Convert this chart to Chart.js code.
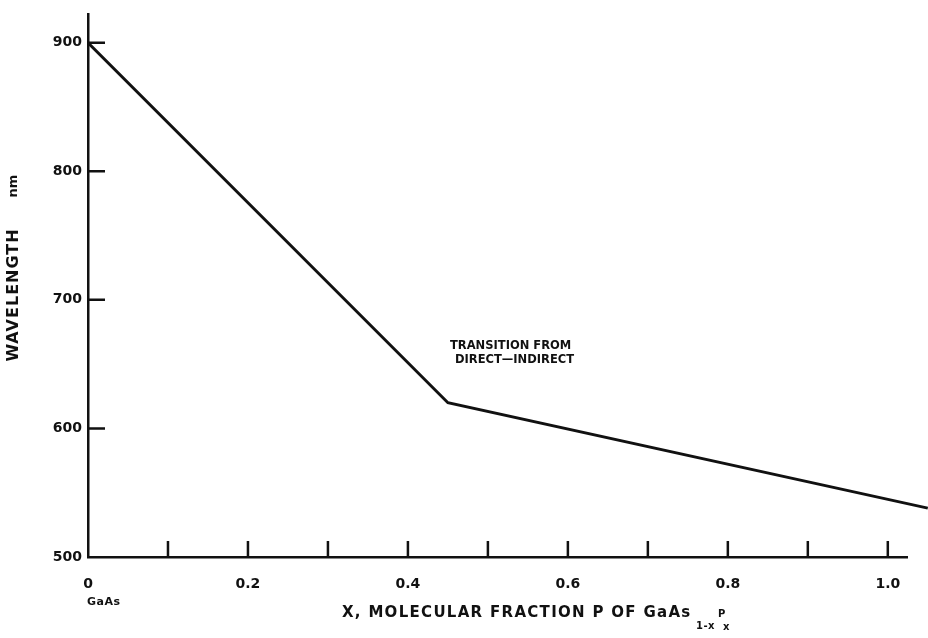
<!DOCTYPE html>
<html>
<head>
<meta charset="utf-8">
<script src="https://cdn.jsdelivr.net/npm/chart.js@4/dist/chart.umd.min.js"></script>
<style>
  html, body { margin: 0; padding: 0; background: #fff; }
  #wrap { width: 928px; height: 638px; position: relative; }
</style>
</head>
<body>
<div id="wrap"><canvas id="chart"></canvas></div>
<script>
// GaAs(1-x)P(x) emission wavelength vs. phosphorus fraction
const fractionX   = [0, 0.45, 1.05];
const wavelengths = [900, 620, 538];

const xTickValues = [0, 0.1, 0.2, 0.3, 0.4, 0.5, 0.6, 0.7, 0.8, 0.9, 1.0];
const xLabelled   = [0, 0.2, 0.4, 0.6, 0.8, 1.0];
const yTickValues = [500, 600, 700, 800, 900];

const INK = '#111';
const FONT = '"DejaVu Sans", sans-serif';

// short tick marks pointing into the plot, plus the loose labels
const decorations = {
  id: 'decorations',
  afterDraw(chart) {
    const { ctx, scales: { x, y } } = chart;
    const base = y.getPixelForValue(500);
    const left = x.getPixelForValue(0);
    ctx.save();
    ctx.strokeStyle = INK;
    ctx.lineWidth = 2.5;
    ctx.beginPath();
    xTickValues.filter(v => v > 0).forEach(v => {
      const px = x.getPixelForValue(v);
      ctx.moveTo(px, base);
      ctx.lineTo(px, base - 16);
    });
    yTickValues.filter(v => v > 500).forEach(v => {
      const py = y.getPixelForValue(v);
      ctx.moveTo(left, py);
      ctx.lineTo(left + 17, py);
    });
    ctx.stroke();

    ctx.fillStyle = INK;
    ctx.textBaseline = 'middle';

    // y title, rotated
    ctx.save();
    ctx.translate(14, 0);
    ctx.rotate(-Math.PI / 2);
    ctx.textAlign = 'center';
    ctx.font = 'bold 16px ' + FONT;
    ctx.letterSpacing = '1px';
    ctx.fillText('WAVELENGTH', -295, 0);
    ctx.font = 'bold 13px ' + FONT;
    ctx.letterSpacing = '0px';
    ctx.fillText('nm', -186, 0);
    ctx.restore();

    // compound under the origin
    ctx.textAlign = 'left';
    ctx.font = 'bold 11px ' + FONT;
    ctx.letterSpacing = '0.5px';
    ctx.fillText('GaAs', 87, 602);

    // x title with sub/superscript parts
    ctx.font = 'bold 15px ' + FONT;
    ctx.letterSpacing = '1.3px';
    ctx.fillText('X, MOLECULAR FRACTION P OF GaAs', 342, 613);
    ctx.font = 'bold 10px ' + FONT;
    ctx.letterSpacing = '0.5px';
    ctx.fillText('1-x', 696, 626);
    ctx.fillText('P', 718, 614);
    ctx.fillText('x', 723, 627);

    // transition note at the kink
    ctx.font = 'bold 11.5px ' + FONT;
    ctx.letterSpacing = '0px';
    ctx.fillText('TRANSITION FROM', 450, 346);
    ctx.fillText('DIRECT\u2014INDIRECT', 455, 360);
    ctx.restore();
  }
};

new Chart(document.getElementById('chart'), {
  type: 'line',
  data: {
    datasets: [{
      data: fractionX.map((v, i) => ({ x: v, y: wavelengths[i] })),
      borderColor: INK,
      borderWidth: 3,
      pointRadius: 0,
      tension: 0,
      clip: false
    }]
  },
  options: {
    responsive: true,
    maintainAspectRatio: false,
    animation: false,
    layout: { padding: { top: 9, right: 21, left: 0, bottom: 0 } },
    plugins: { legend: { display: false }, tooltip: { enabled: false } },
    scales: {
      x: {
        type: 'linear',
        min: 0,
        max: 1.024,
        afterBuildTicks: s => { s.ticks = xTickValues.map(v => ({ value: v })); },
        afterFit: s => { s.height = 81; },
        grid: { display: false, drawTicks: false },
        border: { display: true, color: INK, width: 2.5 },
        ticks: {
          autoSkip: false,
          maxRotation: 0,
          padding: 19,
          color: INK,
          font: { family: FONT, size: 14, weight: 'bold' },
          callback: v => {
            const hit = xLabelled.find(l => Math.abs(l - v) < 1e-6);
            if (hit === undefined) return '';
            return hit === 0 ? '0' : hit.toFixed(1);
          }
        }
      },
      y: {
        min: 500,
        max: 922,
        afterBuildTicks: s => { s.ticks = yTickValues.map(v => ({ value: v })); },
        afterFit: s => { s.width = 88; },
        grid: { display: false, drawTicks: false },
        border: { display: true, color: INK, width: 2.5 },
        ticks: {
          padding: 6,
          color: INK,
          font: { family: FONT, size: 14, weight: 'bold' }
        }
      }
    }
  },
  plugins: [decorations]
});
</script>
</body>
</html>
